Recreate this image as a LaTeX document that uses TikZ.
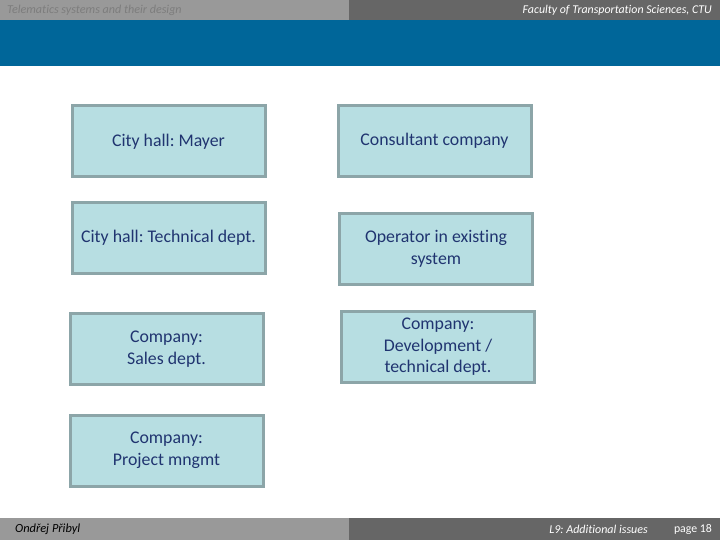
\documentclass[tikz,border=0pt]{standalone}
\usepackage{fontspec}
\setmainfont[Ligatures=NoCommon]{Carlito}
\usepackage{xcolor}
\usepackage{tikz}
\definecolor{BarLight}{RGB}{153,153,153}
\definecolor{BarDark}{RGB}{102,102,102}
\definecolor{TitleBlue}{RGB}{0,102,153}
\definecolor{BoxFill}{RGB}{183,222,226}
\definecolor{BoxLine}{RGB}{140,165,168}
\definecolor{BoxText}{RGB}{32,52,112}
\definecolor{HeadGray}{RGB}{125,125,125}
\frenchspacing
\tikzset{
  roleBox/.style={draw=BoxLine,fill=BoxFill,line width=3pt,
    minimum width=193pt,minimum height=71pt,inner sep=0pt,
    align=center,text=BoxText,font=\fontsize{17.8}{21.5}\selectfont},
  barText/.style={inner sep=0pt,font=\fontsize{11.9}{13}\selectfont\itshape}
}

\begin{document}
\begin{tikzpicture}[x=1pt,y=-1pt]
  % page and bars
  \fill[white] (0,0) rectangle (720,540);
  \fill[BarLight] (0,0) rectangle (349,20);
  \fill[BarDark] (349,0) rectangle (720,20);
  \fill[TitleBlue] (0,20) rectangle (720,66);
  \fill[BarLight] (0,518) rectangle (349,540);
  \fill[BarDark] (349,518) rectangle (720,540);
  \node[barText,text=HeadGray,anchor=west,font=\fontsize{12.1}{14}\selectfont\itshape] (course) at (7,10) {Telematics systems and their design};
  \node[barText,text=white,anchor=east] (faculty) at (712,10) {Faculty of Transportation Sciences, CTU};
  \node[barText,text=black,anchor=west,font=\fontsize{12.4}{14}\selectfont\itshape] (author) at (15,529) {Ondřej Přibyl};
  \node[barText,text=white,anchor=east,font=\fontsize{12}{14}\selectfont\itshape] (lecture) at (648,529) {L9: Additional issues};
  \node[barText,text=white,anchor=east,font=\fontsize{11.8}{13}\selectfont] (page) at (712,529) {page 18};

  % stakeholders
  \node[roleBox] (mayer) at (168.5,141.5) {City hall: Mayer};
  \node[roleBox] (consult) at (434.5,141) {Consultant company};
  \node[roleBox] (techdept) at (168.5,238) {City hall: Technical dept.};
  \node[roleBox] (operator) at (436,249) {Operator in existing\\system};
  \node[roleBox] (sales) at (166.5,349) {Company:\\Sales dept.};
  \node[roleBox] (develop) at (438,347) {Company:\\Development /\\technical dept.};
  \node[roleBox] (project) at (166.5,450.5) {Company:\\Project mngmt};
\end{tikzpicture}
\end{document}
